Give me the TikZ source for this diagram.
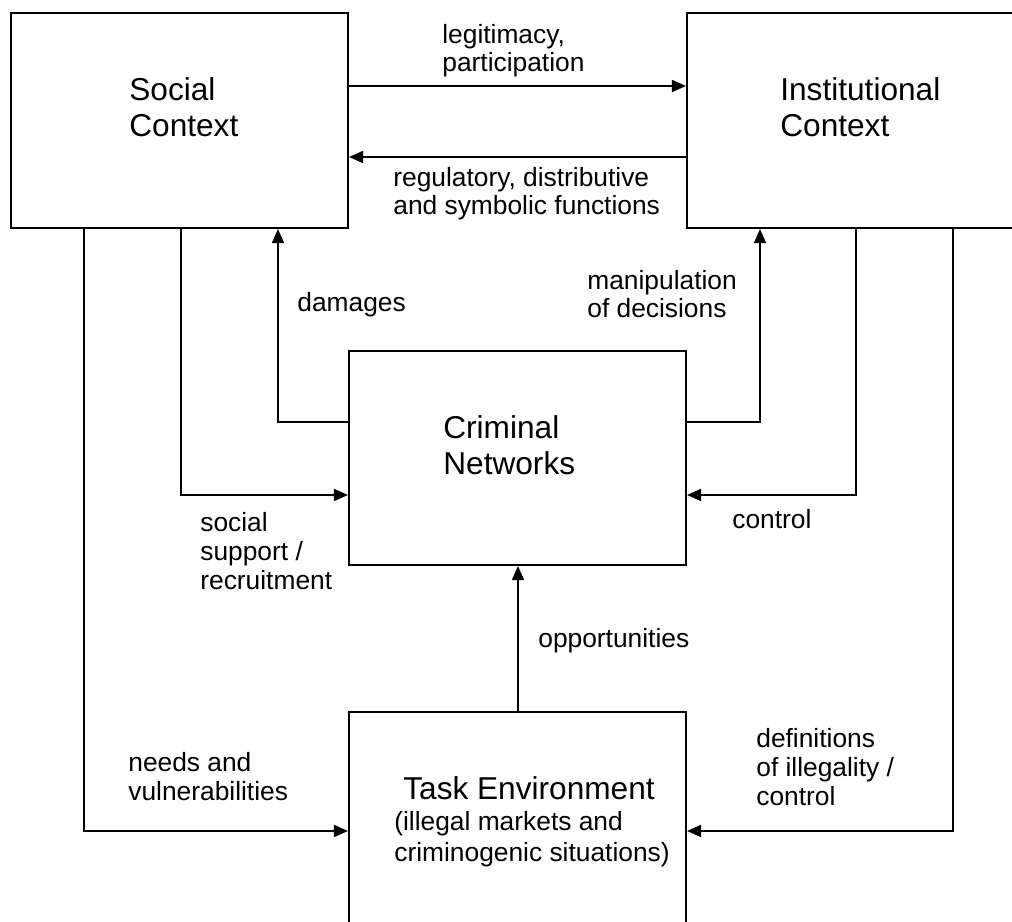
\documentclass[tikz,border=0pt]{standalone}
\usepackage{fontspec}
\setmainfont{Liberation Sans}
\usetikzlibrary{arrows.meta}
\begin{document}
\begin{tikzpicture}[x=0.02cm,y=-0.02cm,>={Triangle[length=0.28cm,width=0.24cm]},
box/.style={draw,line width=1.2pt,inner sep=0pt},
ttl/.style={anchor=base west,inner sep=0pt,align=left,font=\fontsize{18}{21}\selectfont},
lbl/.style={anchor=base west,inner sep=0pt,align=left,font=\fontsize{15}{16.5}\selectfont},
con/.style={->,line width=0.9pt}]
\useasboundingbox (0,0) rectangle (1012,922);
\node[box,minimum width=6.74cm,minimum height=4.3cm](social) at (179.5,120.5){};
\node[box,minimum width=6.58cm,minimum height=4.3cm](inst) at (851.5,120.5){};
\node[box,minimum width=6.74cm,minimum height=4.28cm](crime) at (517.5,458){};
\node[box,minimum width=6.74cm,minimum height=4.46cm](task) at (517.5,823.5){};
\node[ttl](socialT) at (129,137){Social\\Context};
\node[ttl](instT) at (780,137){Institutional\\Context};
\node[ttl](crimeT) at (443,475){Criminal\\Networks};
\node[ttl](taskT) at (403,799){Task Environment};
\node[lbl,font=\fontsize{15}{17.5}\selectfont](taskS) at (394,861){(illegal markets and\\criminogenic situations)};
\draw[con](social.east |- 0,86)--(inst.west |- 0,86);
\draw[con](inst.west |- 0,157)--(social.east |- 0,157);
\draw[con](84,0 |- social.south)|-(task.west |- 0,831);
\draw[con](181,0 |- social.south)|-(crime.west |- 0,495);
\draw[con](crime.west |- 0,422)-|(278,0 |- social.south);
\draw[con](crime.east |- 0,422)-|(760,0 |- inst.south);
\draw[con](856,0 |- inst.south)|-(crime.east |- 0,495);
\draw[con](953,0 |- inst.south)|-(task.east |- 0,831);
\draw[con](518,0 |- task.north)--(518,0 |- crime.south);
\node[lbl](legit) at (442,72){legitimacy,\\participation};
\node[lbl](regul) at (393,215){regulatory, distributive\\and symbolic functions};
\node[lbl](damage) at (297,312){damages};
\node[lbl](manip) at (587,318){manipulation\\of decisions};
\node[lbl](support) at (200,589){social\\support /\\recruitment};
\node[lbl](ctrl) at (732,528){control};
\node[lbl](opport) at (538,647){opportunities};
\node[lbl](needs) at (128,800){needs and\\vulnerabilities};
\node[lbl](define) at (756,805){definitions\\of illegality /\\control};
\end{tikzpicture}
\end{document}
